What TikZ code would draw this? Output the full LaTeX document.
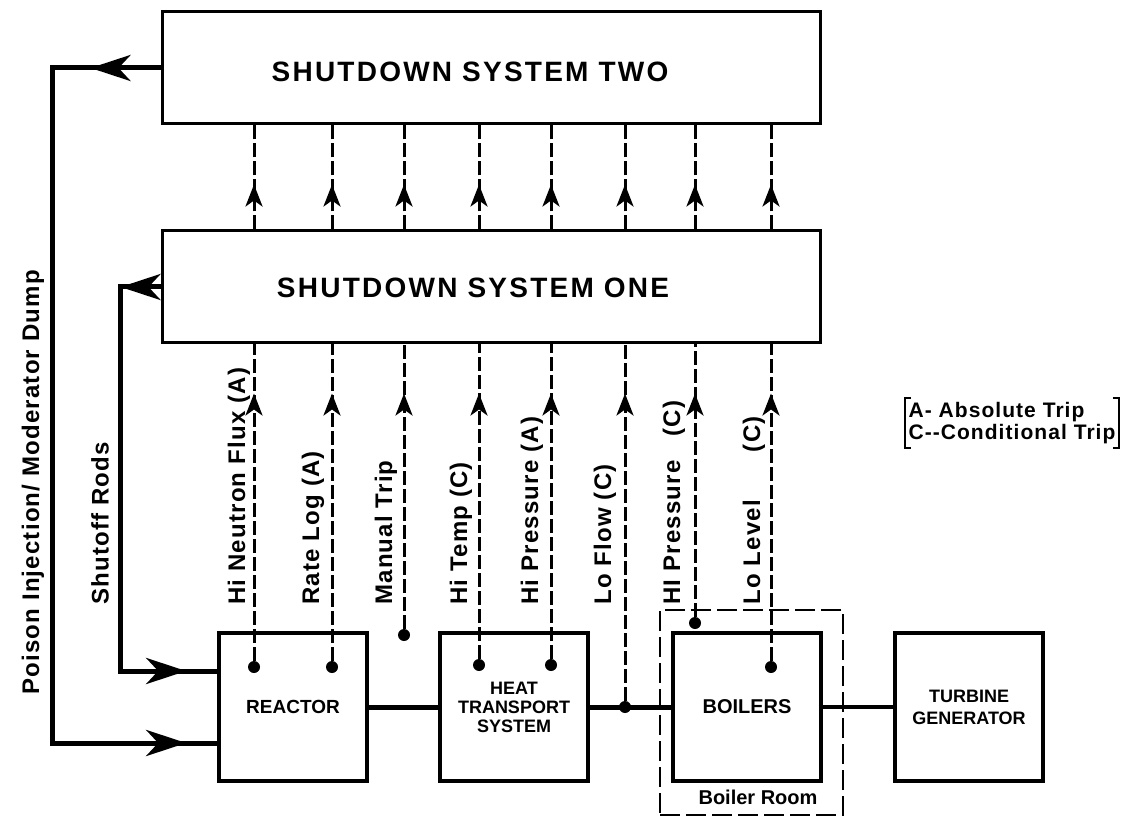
\documentclass[tikz,border=0pt]{standalone}
\usepackage{fontspec}
\setmainfont{Liberation Sans}
\newfontfamily\spacedfont{Liberation Sans}[LetterSpace=5.0]
\newfontfamily\widefont{Liberation Sans}[LetterSpace=8.0]
\usetikzlibrary{arrows.meta,positioning,calc,decorations.markings}

\begin{document}
\begin{tikzpicture}[x=0.5pt,y=-0.5pt,every node/.style={font=\bfseries},
  smalltip/.tip={Stealth[length=11pt,width=8.5pt,inset=3pt]},
  bigtip/.tip={Stealth[length=20pt,width=13pt,inset=6pt]},
  sysbox/.style={draw,line width=1.5pt,minimum width=329pt,minimum height=56pt,inner sep=0pt},
  title/.style={font=\widefont\bfseries\fontsize{14}{16}\selectfont},
  plant/.style={draw,line width=1.8pt,minimum width=74pt,minimum height=74pt,inner sep=0pt,align=center,font=\bfseries\fontsize{9.5}{10}\selectfont},
  tap/.style={circle,fill,inner sep=0pt,minimum size=6pt},
  sig/.style={line width=1.5pt,dash pattern=on 7pt off 2pt},
  upmark/.style={postaction={decorate,decoration={markings,mark=at position -#1 with {\arrow[solid]{smalltip}}}}},
  siglbl/.style={rotate=90,anchor=west,inner sep=0pt,font=\spacedfont\bfseries\fontsize{12}{14}\selectfont},
  link/.style={line width=2.5pt}]
\useasboundingbox (0,0) rectangle (1143,817);
\coordinate (base) at (0,605);

\node[sysbox] (sds2) at (491,68) {};
\node[title] (sds2t) at (470,72) {SHUTDOWN SYSTEM TWO};
\node[sysbox] (sds1) at (491,287) {};
\node[title] (sds1t) at (473,288) {SHUTDOWN SYSTEM ONE};

\node[plant] (reac) at (293,707) {REACTOR};
\node[plant,font=\bfseries\fontsize{9}{9.5}\selectfont] (hts) at (514,707) {HEAT\\TRANSPORT\\SYSTEM};
\node[plant,font=\bfseries\fontsize{10}{11}\selectfont] (boil) at (747,707) {BOILERS};
\node[plant,font=\bfseries\fontsize{9}{11}\selectfont] (tg) at (969,707) {TURBINE\\GENERATOR};
\node[draw,line width=1.2pt,dash pattern=on 10pt off 3pt,minimum width=91.5pt,minimum height=102.5pt] (room) at (751.5,712.5) {};
\node[font=\bfseries\fontsize{10}{12}\selectfont] (roomlbl) at (758,797) {Boiler Room};

\draw[link] (reac) -- (hts);
\draw[link] (hts) -- (boil);
\draw[line width=2pt] (boil) -- (tg);

\node[tap] (t1) at (254,667) {};
\node[tap] (t2) at (332,667) {};
\node[tap] (t3) at (404,635) {};
\node[tap] (t4) at (479,665) {};
\node[tap] (t5) at (551,665) {};
\node[tap] (t6) at (625,707) {};
\node[tap] (t7) at (695,623) {};
\node[tap] (t8) at (771,667) {};

\draw[sig,upmark=24.5pt] (t1) -- (t1 |- sds1.south);
\draw[sig,upmark=24.5pt] (t2) -- (t2 |- sds1.south);
\draw[sig,upmark=24.5pt] (t3) -- (t3 |- sds1.south);
\draw[sig,upmark=24.5pt] (t4) -- (t4 |- sds1.south);
\draw[sig,upmark=24.5pt] (t5) -- (t5 |- sds1.south);
\draw[sig,upmark=24.5pt] (t6) -- (t6 |- sds1.south);
\draw[sig,upmark=24.5pt] (t7) -- (t7 |- sds1.south);
\draw[sig,upmark=24.5pt] (t8) -- (t8 |- sds1.south);

\draw[sig,upmark=29.5pt] (t1 |- sds1.north) -- (t1 |- sds2.south);
\draw[sig,upmark=29.5pt] (t2 |- sds1.north) -- (t2 |- sds2.south);
\draw[sig,upmark=29.5pt] (t3 |- sds1.north) -- (t3 |- sds2.south);
\draw[sig,upmark=29.5pt] (t4 |- sds1.north) -- (t4 |- sds2.south);
\draw[sig,upmark=29.5pt] (t5 |- sds1.north) -- (t5 |- sds2.south);
\draw[sig,upmark=29.5pt] (t6 |- sds1.north) -- (t6 |- sds2.south);
\draw[sig,upmark=29.5pt] (t7 |- sds1.north) -- (t7 |- sds2.south);
\draw[sig,upmark=29.5pt] (t8 |- sds1.north) -- (t8 |- sds2.south);

\node[siglbl] (l1) at ($(t1 |- base)+(-15,0)$) {Hi Neutron Flux (A)};
\node[siglbl] (l2) at ($(t2 |- base)+(-19,0)$) {Rate Log (A)};
\node[siglbl] (l3) at ($(t3 |- base)+(-18,0)$) {Manual Trip};
\node[siglbl] (l4) at ($(t4 |- base)+(-18,0)$) {Hi Temp (C)};
\node[siglbl] (l5) at ($(t5 |- base)+(-19,0)$) {Hi Pressure (A)};
\node[siglbl] (l6) at ($(t6 |- base)+(-20,0)$) {Lo Flow (C)};
\node[siglbl] (l7) at ($(t7 |- base)+(-21,0)$) {HI Pressure\quad(C)};
\node[siglbl] (l8) at ($(t8 |- base)+(-17,0)$) {Lo Level\qquad(C)};

\draw[link,postaction={decorate,decoration={markings,mark=at position 35pt with {\arrow{bigtip}},mark=at position -15.5pt with {\arrow{bigtip}}}}] (sds2.west) -| (52,743) -- ([yshift=-18pt]reac.west);
\draw[link,postaction={decorate,decoration={markings,mark=at position 20pt with {\arrow{bigtip}},mark=at position -15.5pt with {\arrow{bigtip}}}}] (sds1.west) -| (120,671) -- ([yshift=18pt]reac.west);
\node[siglbl] (poisonl) at (33,695) {Poison Injection/ Moderator Dump};
\node[siglbl] (rodsl) at (100,605) {Shutoff Rods};

\node[align=left,inner xsep=1.5pt,inner ysep=2pt,font=\spacedfont\bfseries\fontsize{10.5}{11}\selectfont] (key) at (1012,423) {A- Absolute Trip\\C{-}{-}Conditional Trip};
\draw[line width=1pt] ([xshift=3pt]key.north west) -- (key.north west) -- (key.south west) -- ([xshift=3pt]key.south west);
\draw[line width=1pt] ([xshift=-3pt]key.north east) -- (key.north east) -- (key.south east) -- ([xshift=-3pt]key.south east);
\end{tikzpicture}
\end{document}
